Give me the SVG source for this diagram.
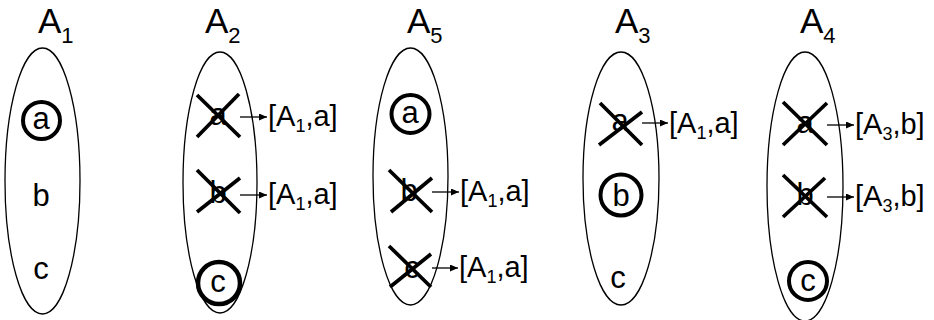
<svg xmlns="http://www.w3.org/2000/svg" width="934" height="320" viewBox="0 0 934 320">
<defs>
<style>
text{font-family:"Liberation Sans",Arial,sans-serif;fill:#000}
.set{fill:none;stroke:#000;stroke-width:1.3}
.ttl{font-size:35px}
.ts{font-size:22px}
.el{font-size:31px;text-anchor:middle}
.lbl{font-size:29px}
.ls{font-size:18px}
.ring{fill:none;stroke:#000;stroke-width:4}
.x{stroke:#000;stroke-width:3.7;stroke-linecap:butt}
.arr{stroke:#000;stroke-width:1.3;fill:none;marker-end:url(#ah)}
</style>
<marker id="ah" markerUnits="userSpaceOnUse" markerWidth="9" markerHeight="8" refX="8" refY="3.5" orient="auto">
<path d="M0,0 L8,3.5 L0,7 z" fill="#000"/>
</marker>
</defs>

<g id="A1">
<ellipse class="set" cx="42.5" cy="181" rx="37.5" ry="133"/>
<text class="ttl" x="38" y="33">A<tspan class="ts" dy="10">1</tspan></text>
<circle class="ring" cx="41.5" cy="120.5" r="18.5"/>
<text class="el" x="41" y="129">a</text>
<text class="el" x="41" y="206">b</text>
<text class="el" x="41" y="279">c</text>
</g>

<g id="A2">
<ellipse class="set" cx="220" cy="182.5" rx="37" ry="130.5"/>
<text class="ttl" x="205" y="33">A<tspan class="ts" dy="10">2</tspan></text>
<text class="el" x="218" y="125">a</text>
<line class="x" x1="197" y1="95" x2="240" y2="137"/>
<line class="x" x1="239" y1="94" x2="197" y2="137"/>
<text class="el" x="218" y="203">b</text>
<line class="x" x1="197" y1="170" x2="240" y2="213"/>
<line class="x" x1="240" y1="178" x2="197" y2="212"/>
<circle class="ring" cx="219" cy="283" r="21" style="stroke-width:4.5"/>
<text class="el" x="218" y="292">c</text>
<text class="lbl" x="268" y="126">[A<tspan class="ls" dy="6">1</tspan><tspan dy="-6">,a]</tspan></text>
<text class="lbl" x="268" y="204">[A<tspan class="ls" dy="6">1</tspan><tspan dy="-6">,a]</tspan></text>
</g>

<g id="A5">
<ellipse class="set" cx="410.5" cy="176.5" rx="37.5" ry="128.5"/>
<text class="ttl" x="407" y="33">A<tspan class="ts" dy="10">5</tspan></text>
<circle class="ring" cx="410.5" cy="114" r="19"/>
<text class="el" x="410" y="123">a</text>
<text class="el" x="409" y="201">b</text>
<line class="x" x1="389" y1="170" x2="432" y2="212"/>
<line class="x" x1="432" y1="178" x2="391" y2="212"/>
<text class="el" x="412" y="278">c</text>
<line class="x" x1="389" y1="246" x2="431" y2="287"/>
<line class="x" x1="431" y1="254" x2="390" y2="287"/>
<text class="lbl" x="460" y="201">[A<tspan class="ls" dy="6">1</tspan><tspan dy="-6">,a]</tspan></text>
<text class="lbl" x="459" y="277">[A<tspan class="ls" dy="6">1</tspan><tspan dy="-6">,a]</tspan></text>
</g>

<g id="A3">
<ellipse class="set" cx="621" cy="178.5" rx="38" ry="126.5"/>
<text class="ttl" x="615" y="33">A<tspan class="ts" dy="10">3</tspan></text>
<text class="el" x="620" y="131">a</text>
<line class="x" x1="600" y1="103" x2="642" y2="145"/>
<line class="x" x1="642" y1="112" x2="599" y2="145"/>
<circle class="ring" cx="621" cy="195" r="20.5"/>
<text class="el" x="621" y="206">b</text>
<text class="el" x="618" y="288">c</text>
<text class="lbl" x="669" y="133">[A<tspan class="ls" dy="6">1</tspan><tspan dy="-6">,a]</tspan></text>
</g>

<g id="A4">
<ellipse class="set" cx="805" cy="186.5" rx="38" ry="134.5"/>
<text class="ttl" x="800" y="33">A<tspan class="ts" dy="10">4</tspan></text>
<text class="el" x="805" y="133">a</text>
<line class="x" x1="783" y1="102" x2="827" y2="145"/>
<line class="x" x1="827" y1="103" x2="783" y2="145"/>
<text class="el" x="805" y="205">b</text>
<line class="x" x1="783" y1="175" x2="827" y2="217"/>
<line class="x" x1="825" y1="178" x2="783" y2="217"/>
<circle class="ring" cx="808" cy="281" r="19"/>
<text class="el" x="808" y="291">c</text>
<text class="lbl" x="855" y="134">[A<tspan class="ls" dy="6">3</tspan><tspan dy="-6">,b]</tspan></text>
<text class="lbl" x="855" y="206">[A<tspan class="ls" dy="6">3</tspan><tspan dy="-6">,b]</tspan></text>
</g>

<g id="connectors">
<line class="arr" x1="240" y1="117" x2="267" y2="117"/>
<line class="arr" x1="240" y1="195" x2="267" y2="195"/>
<line class="arr" x1="432" y1="192" x2="459" y2="192"/>
<line class="arr" x1="432" y1="268" x2="458" y2="268"/>
<line class="arr" x1="642" y1="123" x2="668" y2="123"/>
<line class="arr" x1="827" y1="125" x2="854" y2="125"/>
<line class="arr" x1="827" y1="197" x2="854" y2="197"/>
</g>
</svg>
